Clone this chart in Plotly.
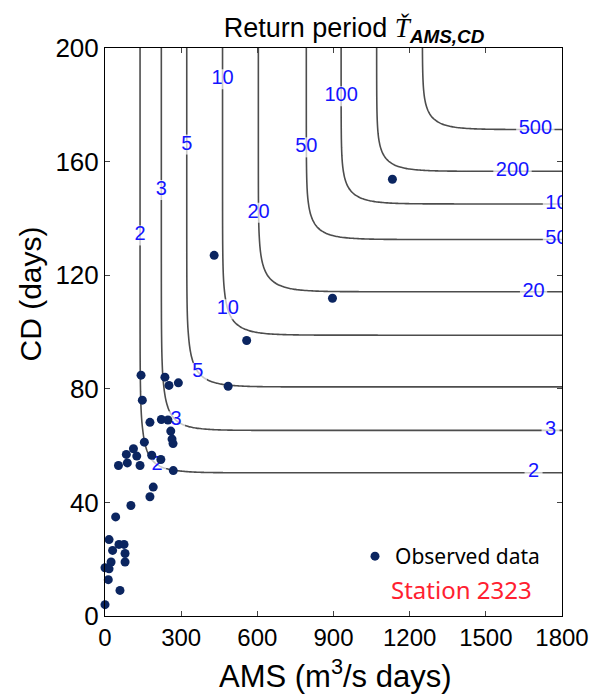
import numpy as np
import plotly.graph_objects as go

# ---- data ----
# Return-period levels and the AMS / CD values where each marginal reaches that level
T_levels = [2, 3, 5, 10, 20, 50, 100, 200, 500]
ams_at_T = [138, 222, 322, 463, 604, 793, 930, 1070, 1250]
cd_at_T = [50.6, 65.4, 80.7, 98.9, 114.2, 132.6, 145.1, 156.6, 171.3]
gumbel_theta = 3.0

obs_ams = [142, 236, 289, 252, 147, 177, 222, 248, 259, 264, 268, 155, 112, 84, 125,
           184, 220, 53, 88, 138, 269, 190, 177, 102, 42, 16, 55, 75, 30, 79, 24, 79,
           0, 16, 13, 59, 0, 430, 1132, 896, 558, 485]
obs_cd = [84.8, 84.1, 82.1, 81.2, 76, 68.2, 69.2, 69, 65.1, 62.3, 60.7, 61.2, 58.9,
          56.9, 56.3, 56.6, 55.1, 53, 53.9, 53, 51.2, 45.4, 42, 38.9, 34.9, 26.9, 25.2,
          25.2, 23.1, 22, 19, 19, 17, 16.6, 12.8, 9, 4, 127, 153.8, 111.9, 97, 80.9]

x_ticks = [0, 300, 600, 900, 1200, 1500, 1800]
y_ticks = [0, 40, 80, 120, 160, 200]

# contour labels: level, which coordinate is given, and its value
label_T = [2, 3, 5, 10, 20, 50, 100, 10, 5, 3, 2, 500, 200, 100, 50, 20, 3, 2]
label_axis = ['y', 'y', 'y', 'y', 'y', 'y', 'y', 'y', 'x', 'x', 'x',
              'x', 'x', 'x', 'x', 'x', 'x', 'x']
label_at = [134, 150, 166, 189, 142, 165, 183, 108, 366, 280, 205,
            1695, 1605, 1800, 1778, 1688, 1755, 1688]


def marginal_T(vals, anchors, levels):
    vals = np.atleast_1d(np.asarray(vals, dtype=float))
    xs = np.array([0.0] + list(anchors), dtype=float)
    lt = np.log(np.array([1.0] + list(levels), dtype=float))
    out = np.interp(vals, xs, lt)
    slope = (lt[-1] - lt[-2]) / (xs[-1] - xs[-2])
    hi = vals > xs[-1]
    out[hi] = lt[-1] + slope * (vals[hi] - xs[-1])
    return np.maximum(np.exp(out), 1.000001)


def t_or(xv, yv):
    a = -np.log1p(-1.0 / marginal_T(xv, ams_at_T, T_levels))
    b = -np.log1p(-1.0 / marginal_T(yv, cd_at_T, T_levels))
    s = (a ** gumbel_theta + b ** gumbel_theta) ** (1.0 / gumbel_theta)
    return 1.0 / (-np.expm1(-s))


xg = np.linspace(0, 1800, 241)
yg = np.linspace(0, 200, 201)
XX, YY = np.meshgrid(xg, yg)
T_or = t_or(XX.ravel(), YY.ravel()).reshape(XX.shape).astype(np.float32)

fig = go.Figure()
line_gray = '#4d4d4d'
for T in T_levels:
    fig.add_trace(go.Contour(
        x=xg, y=yg, z=T_or,
        autocontour=False,
        contours=dict(start=T, end=T, size=1, coloring='lines', showlabels=False),
        colorscale=[[0, line_gray], [1, line_gray]],
        line=dict(width=1.6),
        showscale=False, hoverinfo='skip', showlegend=False))

# contour labels placed on the model curves (white patch cuts the line, then the text)
label_fs = 20
lab_x, lab_y, lab_txt, lab_gap = [], [], [], []
for T, ax, v in zip(label_T, label_axis, label_at):
    if ax == 'y':
        xs = np.linspace(0, 1800, 3601)
        tv = t_or(xs, np.full_like(xs, v))
        lx, ly = float(np.interp(np.log(T), np.log(tv), xs)), v
        gap = label_fs
    else:
        ys = np.linspace(0, 200, 2001)
        tv = t_or(np.full_like(ys, v), ys)
        lx, ly = v, float(np.interp(np.log(T), np.log(tv), ys))
        gap = max(len(str(T)) * 0.556 * label_fs + 5, 18)
    lab_x.append(lx)
    lab_y.append(ly)
    lab_txt.append(str(T))
    lab_gap.append(gap)

fig.add_trace(go.Scatter(x=lab_x, y=lab_y, mode='markers', hoverinfo='skip', showlegend=False,
                         marker=dict(symbol='square', size=lab_gap, color='white',
                                     line=dict(width=0))))
fig.add_trace(go.Scatter(x=lab_x, y=lab_y, mode='text', text=lab_txt, textposition='middle center',
                         hoverinfo='skip', showlegend=False,
                         textfont=dict(family='Liberation Sans', size=label_fs, color='#1414ff')))

fig.add_trace(go.Scatter(
    x=obs_ams, y=obs_cd, mode='markers', name='Observed data',
    marker=dict(size=9, color='#0b2560'), cliponaxis=False))

fig.add_annotation(text='Station 2323', xref='paper', yref='paper',
                   x=(389 - 105) / 457, y=(616.5 - 590) / 568,
                   xanchor='left', yanchor='middle', showarrow=False,
                   font=dict(family='Noto Sans', size=24, color='#ff2030'))

# axis titles
fig.add_annotation(text='AMS (m<sup>3</sup>/s days)', xref='paper', yref='paper',
                   x=(335.5 - 105) / 457, y=(616.5 - 674) / 568,
                   xanchor='center', yanchor='middle', showarrow=False,
                   font=dict(family='Liberation Sans', size=31, color='black'))
fig.add_annotation(text='CD (days)', xref='paper', yref='paper', textangle=-90,
                   x=(30 - 105) / 457, y=(616.5 - 295) / 568,
                   xanchor='center', yanchor='middle', showarrow=False,
                   font=dict(family='Liberation Sans', size=30, color='black'))

fig.update_layout(
    width=605, height=698,
    margin=dict(l=105, r=43, t=48, b=82),
    paper_bgcolor='white', plot_bgcolor='white',
    font=dict(family='Liberation Sans', color='black'),
    title=dict(text='Return period <span style="font-family:Liberation Serif"><i>Ť</i></span>'
                    '<sub><b><i>AMS,CD</i></b></sub>',
               xref='paper', x=0.545, xanchor='center',
               yref='container', y=1 - 28 / 698, yanchor='middle',
               font=dict(size=27, family='Liberation Sans', color='black')),
    legend=dict(x=(355 - 105) / 457, y=(616.5 - 557) / 568, xanchor='left', yanchor='middle',
                bgcolor='rgba(0,0,0,0)', font=dict(family='Noto Sans', size=21, color='black'),
                itemwidth=30),
    showlegend=True,
)
fig.update_xaxes(range=[0, 1800], tickvals=x_ticks, ticks='inside', ticklen=5,
                 showline=True, linecolor='black', linewidth=1, mirror='ticks',
                 showgrid=False, zeroline=False,
                 tickfont=dict(size=24, family='Liberation Sans'))
fig.update_yaxes(range=[0, 200], tickvals=y_ticks, ticks='inside', ticklen=5,
                 showline=True, linecolor='black', linewidth=1, mirror='ticks',
                 showgrid=False, zeroline=False,
                 tickfont=dict(size=26, family='Liberation Sans'))

fig.write_html('out.html')
